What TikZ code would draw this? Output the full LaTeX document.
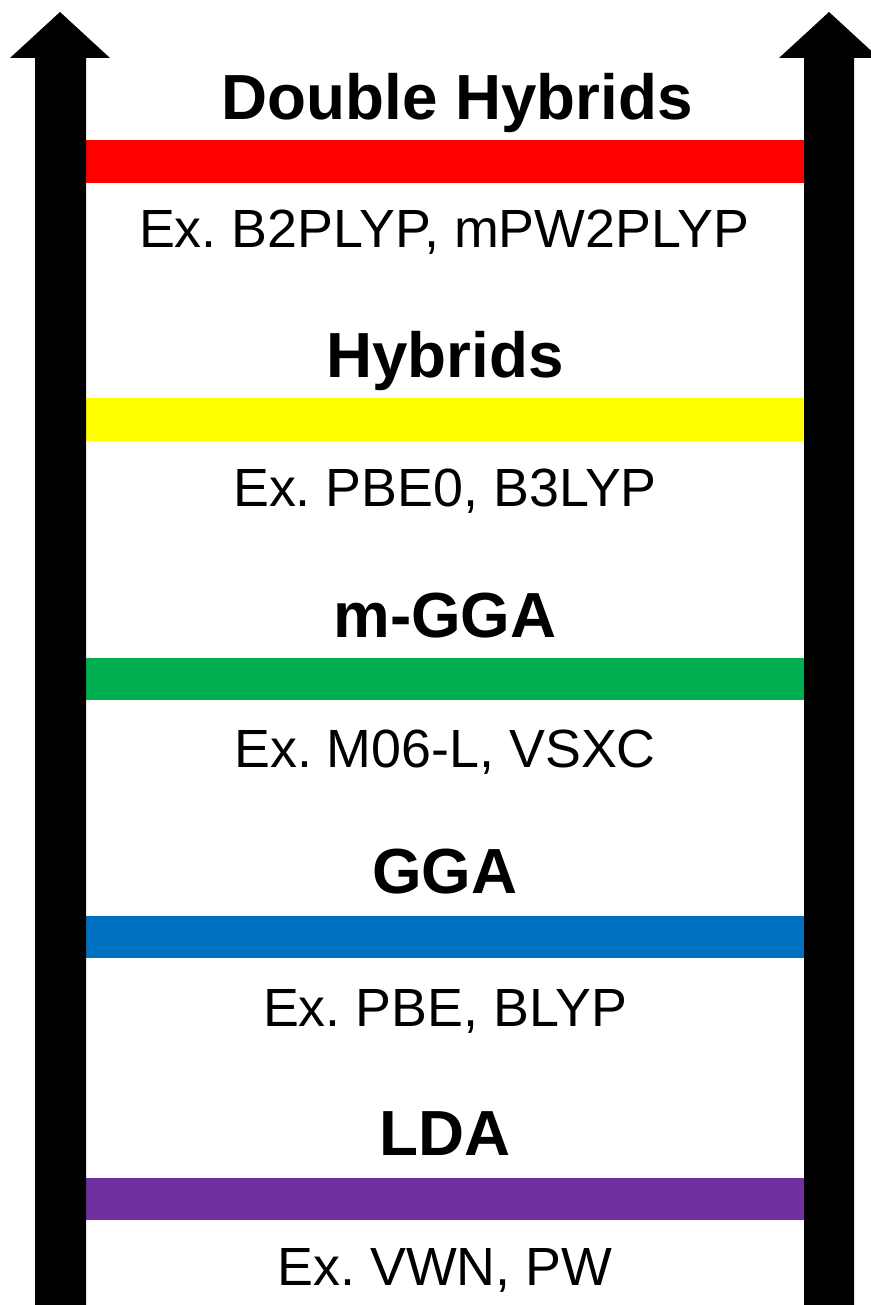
\documentclass[tikz,border=0pt]{standalone}
\usepackage{fontspec}
\setmainfont{Liberation Sans}
\definecolor{rungred}{HTML}{FF0000}
\definecolor{rungyellow}{HTML}{FFFF00}
\definecolor{runggreen}{HTML}{00B050}
\definecolor{rungblue}{HTML}{0070C0}
\definecolor{rungpurple}{HTML}{7030A0}
\frenchspacing
\begin{document}
\begin{tikzpicture}[x=1bp,y=-1bp,
  rung/.style={fill=#1, draw=none, minimum width=719bp, minimum height=42.5bp, inner sep=0pt, outer sep=0pt},
  level/.style={font=\fontsize{64}{70}\selectfont\bfseries, anchor=base, inner sep=0pt},
  example/.style={font=\fontsize{54}{60}\selectfont, anchor=base, inner sep=0pt},
  uparrow/.style={fill=black, draw=none}]
\useasboundingbox (0,0) rectangle (870,1305);

% Rungs of the ladder
\node[rung=rungred]    (dh)   at (445.5,161.5) {};
\node[rung=rungyellow] (hyb)  at (445.5,419.5) {};
\node[rung=runggreen]  (mgga) at (445.5,679)   {};
\node[rung=rungblue]   (gga)  at (445.5,937)   {};
\node[rung=rungpurple] (lda)  at (445.5,1199)  {};

% Side arrows
\fill[uparrow] (35,1310) -- (35,58) -- (10,58) -- (60,12) -- (110,58) -- (86,58) -- (86,1310) -- cycle;
\fill[uparrow] (804,1310) -- (804,58) -- (779,58) -- (829,12) -- (879,58) -- (854,58) -- (854,1310) -- cycle;

% Level names
\node[level] (tdh)   at (457,120)  {Double Hybrids};
\node[level] (thyb)  at (445,377)  {Hybrids};
\node[level] (tmgga) at (445,637)  {m-GGA};
\node[level] (tgga)  at (445,893)  {GGA};
\node[level] (tlda)  at (445,1155) {LDA};

% Examples
\node[example] (edh)   at (444,248)  {Ex. B2PLYP, mPW2PLYP};
\node[example] (ehyb)  at (445,506)  {Ex. PBE0, B3LYP};
\node[example] (emgga) at (445,767)  {Ex. M06-L, VSXC};
\node[example] (egga)  at (445,1026) {Ex. PBE, BLYP};
\node[example] (elda)  at (445,1285) {Ex. VWN, PW};
\end{tikzpicture}
\end{document}
